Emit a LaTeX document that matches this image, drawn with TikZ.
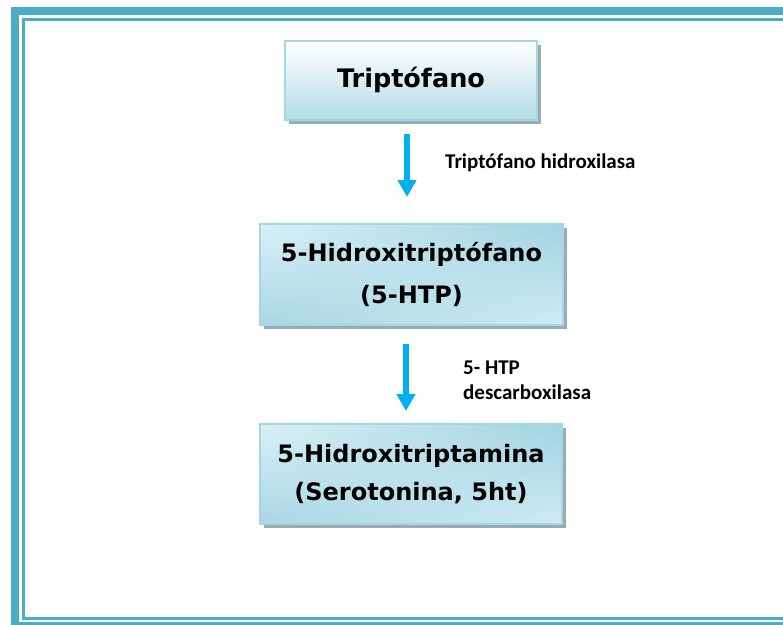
\documentclass[tikz,border=0pt]{standalone}
\usepackage{fontspec}
\usetikzlibrary{shadows,shadings,arrows.meta,calc}
\newfontfamily\boxfont{DejaVu Sans}
\newfontfamily\lblfont{Carlito}
\definecolor{frameblue}{HTML}{4BACC6}
\definecolor{boxedge}{HTML}{A3D7E3}
\definecolor{arrowblue}{HTML}{00B0F0}
\definecolor{shadowgrey}{HTML}{8FA3A8}
\definecolor{topbot}{RGB}{181,220,230}
\definecolor{cUL}{RGB}{218,240,246}
\definecolor{cUR}{RGB}{160,211,225}
\definecolor{cLL}{RGB}{168,214,227}
\definecolor{cLR}{RGB}{208,236,243}
\begin{document}
\begin{tikzpicture}[x=1pt,y=-1pt,
  chembox/.style={draw=boxedge,line width=2pt,inner sep=0pt,align=center,
    font=\boxfont\bfseries\fontsize{24}{42}\selectfont,
    drop shadow={shadow xshift=4pt,shadow yshift=-4pt,fill=shadowgrey,opacity=0.9}},
  cornershade/.style={upper left=cUL,upper right=cUR,lower left=cLL,lower right=cLR},
  flowarrow/.style={draw=arrowblue,line width=6pt,-{Triangle[width=18pt,length=17pt]}},
  enzlabel/.style={anchor=west,inner sep=0pt,align=left,
    font=\lblfont\bfseries\fontsize{21}{25}\selectfont}]
\useasboundingbox (0,0) rectangle (783,624);
\begin{scope}
\clip (0,0) rectangle (783,624);
\draw[frameblue,line width=8pt] (15,11) rectangle (805,625.7);
\draw[frameblue,line width=3pt] (23.5,19.5) rectangle (795,618);
\end{scope}
\node[chembox,minimum width=252pt,minimum height=79pt,
  top color=white,bottom color=topbot,
  font=\boxfont\bfseries\fontsize{25.5}{30}\selectfont]
  (b1) at (411,80.5) {\raisebox{7pt}{Triptófano}};
\node[chembox,cornershade,minimum width=303pt,minimum height=101pt]
  (b2) at (411.5,274.5) {5-Hidroxitriptófano\\(5-HTP)};
\node[chembox,cornershade,minimum width=302pt,minimum height=100pt,
  font=\boxfont\bfseries\fontsize{24}{38}\selectfont]
  (b3) at (411,474) {\raisebox{0pt}{5-Hidroxitriptamina}\\(Serotonina, 5ht)};
\coordinate (a1s) at ($(b1.south)+(-4,13)$);
\coordinate (a1e) at ($(b2.north)+(-4.5,-26)$);
\coordinate (a2s) at ($(b2.south)+(-5.5,18)$);
\coordinate (a2e) at ($(b3.north)+(-5,-12)$);
\draw[flowarrow] (a1s) -- (a1e);
\draw[flowarrow] (a2s) -- (a2e);
\node[enzlabel] (l1) at (445,163) {Triptófano hidroxilasa};
\node[enzlabel] (l2) at (463,380) {5- HTP\\descarboxilasa};
\end{tikzpicture}
\end{document}
